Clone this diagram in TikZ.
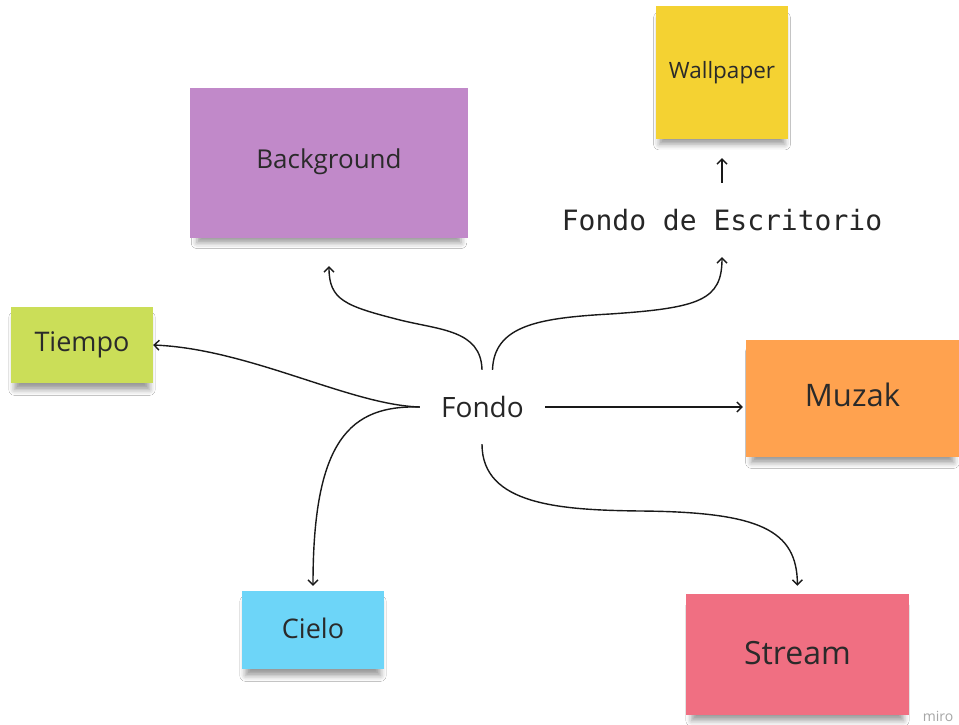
\documentclass[tikz,border=0pt]{standalone}
\usepackage{fontspec}
\setmainfont{Open Sans}
\newfontfamily\monofont{DejaVu Sans Mono}
\usetikzlibrary{arrows.meta,shadows.blur,calc}
\definecolor{cpurple}{HTML}{C189C9}
\definecolor{cyellow}{HTML}{F4D232}
\definecolor{clime}{HTML}{CBDE58}
\definecolor{corange}{HTML}{FFA24F}
\definecolor{ccyan}{HTML}{6DD5F8}
\definecolor{cpink}{HTML}{F06F82}
\definecolor{ctext}{HTML}{2A2A2A}
\tikzset{
  note/.style={rectangle, inner sep=0pt, text=ctext, align=center,
    blur shadow={shadow xshift=0pt, shadow yshift=-9pt, shadow blur radius=6pt, shadow opacity=40, shadow scale=0.95}},
  conn/.style={line width=1.4pt, draw=black!90, -{Straight Barb[length=5pt,width=10pt]}},
  fs/.style={font=\fontsize{#1}{#1}\selectfont}
}
\begin{document}
\begin{tikzpicture}[x=1pt,y=-1pt]
\useasboundingbox (0,0) rectangle (959,725);
\fill[white] (0,0) rectangle (959,725);

% sticky notes
\node[note, fill=cpurple, minimum width=278pt, minimum height=150pt, fs=26] (bg) at (329,163) {\raisebox{8pt}{Background}};
\node[note, fill=cyellow, minimum width=132pt, minimum height=133pt, fs=22.5] (wall) at (722,72.5) {\raisebox{3pt}{Wallpaper}};
\node[note, fill=clime, minimum width=142pt, minimum height=76pt, fs=27] (tiempo) at (82,345) {\raisebox{3pt}{Tiempo}};
\node[note, fill=corange, minimum width=213pt, minimum height=117pt, fs=31] (muzak) at (852.5,398.5) {\raisebox{7pt}{Muzak}};
\node[note, fill=ccyan, minimum width=142pt, minimum height=78pt, fs=27] (cielo) at (313,630) {\raisebox{4pt}{Cielo}};
\node[note, fill=cpink, minimum width=223pt, minimum height=121pt, fs=32] (stream) at (797.5,654.5) {\raisebox{4pt}{Stream}};

% central topic
\node[minimum width=125pt, minimum height=74pt, inner sep=0pt, text=black!85, fs=28] (fondo) at (482.5,407) {Fondo};
\node[minimum width=330pt, minimum height=74pt, inner sep=0pt, text=black!85, fs=28] (escr) at (722,220) {\monofont Fondo de Escritorio};

% connectors
\draw[conn, shorten >=3pt] (fondo.east) -- (fondo.east -| muzak.west);
\draw[conn] (fondo.west) .. controls (350,405) and (250,349) .. (tiempo.east);
\draw[conn, shorten >=5pt] (fondo.west) .. controls (350,405) and (313,440) .. (cielo.north);
\draw[conn, shorten >=28pt] ($(fondo.north)+(-0.5,0)$) .. controls (481,330) and (440,330) .. (400,320) .. controls (345,306) and (329,300) .. (bg.south);
\draw[conn] ($(fondo.north)+(10,0)$) .. controls (494,325) and (540,318) .. (610,314) .. controls (700,308) and (722,300) .. (escr.south);
\draw[conn, shorten >=8pt] ($(fondo.south)+(-0.5,0)$) .. controls (482,505) and (560,510) .. (640,511) .. controls (760,512) and (797,530) .. (stream.north);
\draw[conn, shorten >=19pt] (escr.north) -- (wall.south);

% watermark
\node[text=black!35, fs=14, inner sep=0pt] (miro) at (938,716) {miro};
\end{tikzpicture}
\end{document}
